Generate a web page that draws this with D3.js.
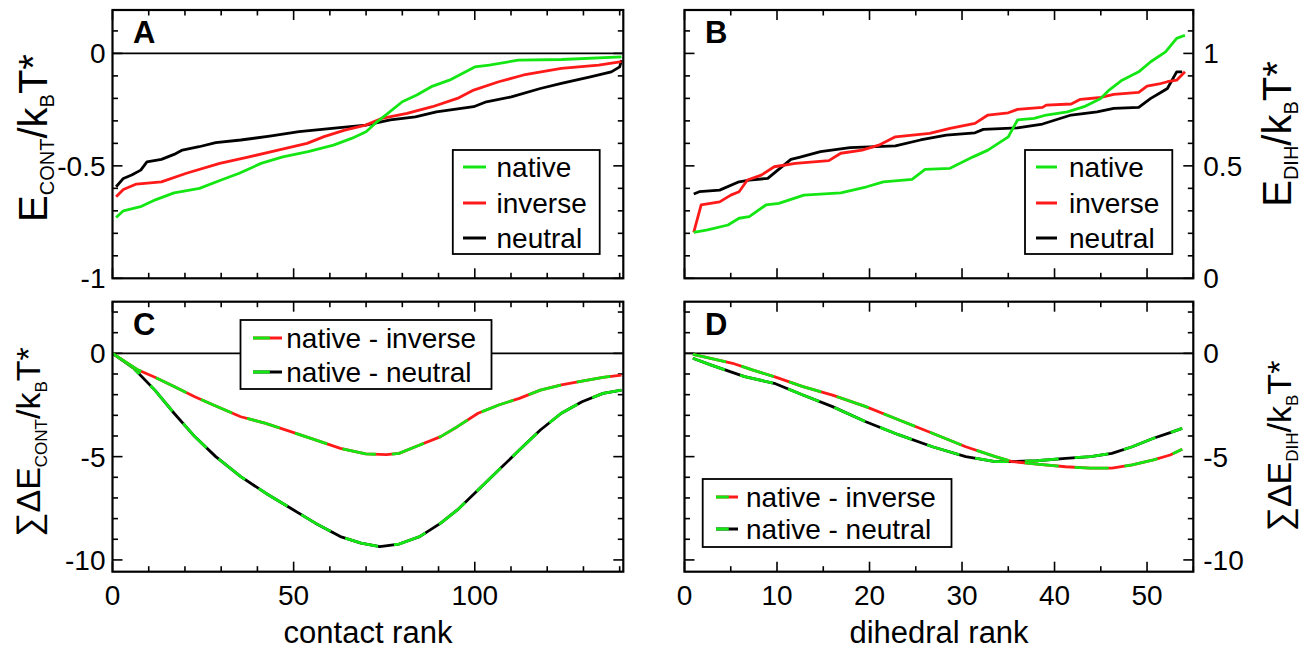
<!DOCTYPE html>
<html>
<head>
<meta charset="utf-8">
<script src="https://cdn.jsdelivr.net/npm/d3@7"></script>
<style>
  html, body { margin: 0; padding: 0; background: #fff; }
  svg { display: block; }
</style>
</head>
<body>
<div id="chart"></div>
<script>
// per-contact / per-dihedral energies, sorted by rank: [rank, value]
const nativeCont = [[1,-0.73],[3,-0.70],[8,-0.68],[12,-0.65],[17,-0.62],[24,-0.60],[30,-0.563],[35,-0.533],[41,-0.489],[47,-0.46],[54,-0.437],[61,-0.408],[66,-0.378],[70,-0.348],[73,-0.304],[76,-0.267],[80,-0.215],[84,-0.185],[88,-0.148],[93,-0.119],[100,-0.06],[104,-0.052],[112,-0.03],[124,-0.027],[140.5,-0.015]];
const inverseCont = [[1,-0.637],[3,-0.605],[6.6,-0.581],[13.5,-0.571],[20.4,-0.533],[29.6,-0.489],[37.7,-0.46],[45.7,-0.43],[53.7,-0.40],[58.4,-0.37],[64.1,-0.341],[69.9,-0.319],[74.4,-0.289],[81.3,-0.267],[88.3,-0.237],[95.2,-0.2],[99.7,-0.163],[106.6,-0.126],[113.5,-0.096],[123.9,-0.067],[134.2,-0.052],[140.5,-0.037]];
const neutralCont = [[1,-0.593],[3,-0.556],[5.3,-0.541],[7.8,-0.519],[9.5,-0.482],[13.5,-0.471],[17,-0.449],[19.3,-0.43],[23.9,-0.415],[28.5,-0.397],[35.4,-0.385],[43.4,-0.368],[51.5,-0.348],[60.6,-0.333],[69.9,-0.319],[76.7,-0.296],[83.6,-0.282],[89.4,-0.26],[99.7,-0.237],[103.2,-0.215],[110.1,-0.193],[118.1,-0.156],[123.9,-0.133],[131.9,-0.104],[137.7,-0.082],[140,-0.06],[140.5,-0.03]];

const nativeDih = [[1,0.204],[2.5,0.215],[4.7,0.237],[5.9,0.267],[7,0.274],[8.8,0.326],[10.2,0.333],[12.9,0.37],[16.9,0.38],[19.7,0.407],[21.5,0.429],[24.6,0.44],[26,0.484],[28.7,0.489],[31.2,0.54],[32.8,0.57],[35,0.629],[36,0.704],[37.8,0.711],[39.1,0.726],[41.4,0.74],[43.2,0.763],[45,0.8],[45.9,0.837],[47.3,0.881],[49.1,0.918],[50.4,0.963],[52,1.007],[53.2,1.067],[54.1,1.081]];
const inverseDih = [[1,0.204],[1.8,0.326],[3.8,0.34],[5,0.37],[5.9,0.385],[6.8,0.437],[8.3,0.459],[9.7,0.496],[12,0.511],[15.6,0.523],[16.9,0.556],[19.2,0.57],[21,0.592],[22.8,0.629],[26.5,0.644],[28.7,0.667],[31.4,0.689],[32.8,0.726],[35,0.736],[36,0.751],[38.7,0.76],[39.1,0.77],[41.8,0.775],[42.8,0.796],[45,0.804],[46.4,0.818],[49.1,0.827],[50,0.855],[51.3,0.864],[52.2,0.874],[53.2,0.881],[54.1,0.918]];
const neutralDih = [[1,0.375],[1.6,0.385],[3.8,0.392],[5.9,0.429],[7,0.437],[9,0.444],[11.5,0.529],[12.4,0.538],[14.7,0.563],[17.9,0.581],[22.8,0.589],[25.5,0.615],[28.3,0.637],[31.4,0.647],[32.3,0.662],[36,0.669],[38.7,0.686],[41.8,0.726],[44.6,0.74],[46.4,0.756],[49.1,0.76],[50.4,0.8],[51.3,0.822],[52.2,0.844],[53.2,0.918],[53.8,0.918]];

// cumulative differences
const cumInverseCont = [[0,0],[7.1,-0.81],[11.7,-1.16],[17,-1.61],[22.7,-2.1],[28.5,-2.55],[35.4,-3.07],[42.3,-3.39],[49.2,-3.79],[56,-4.19],[62.9,-4.6],[69.9,-4.87],[75.6,-4.9],[79.1,-4.84],[84.8,-4.44],[90.6,-4.03],[95.2,-3.55],[100.9,-2.9],[106.6,-2.5],[112.3,-2.18],[118.1,-1.78],[123.9,-1.53],[129.6,-1.34],[135.4,-1.16],[140.5,-1.05]];
const cumNeutralCont = [[0,0],[5.9,-0.73],[11.7,-1.78],[17,-2.9],[22.7,-4.03],[28.5,-5.0],[35.4,-5.97],[42.3,-6.77],[49.2,-7.5],[56,-8.22],[62.9,-8.87],[68.6,-9.19],[73.8,-9.36],[79.1,-9.23],[84.8,-8.87],[90.6,-8.22],[95.2,-7.58],[100.9,-6.61],[106.6,-5.65],[112.3,-4.68],[118.1,-3.71],[123.9,-2.9],[129.6,-2.34],[135.4,-1.94],[140.5,-1.78]];
const cumInverseDih = [[0.9,-0.05],[2,-0.16],[5.2,-0.48],[7.4,-0.81],[9.7,-1.13],[12.8,-1.61],[16,-2.02],[19.6,-2.58],[23.2,-3.23],[26.8,-3.87],[30.4,-4.52],[33.6,-5.0],[35.4,-5.24],[38.1,-5.36],[41.2,-5.49],[43.9,-5.56],[46.2,-5.56],[48.4,-5.4],[50.7,-5.16],[52.5,-4.92],[53.8,-4.64]];
const cumNeutralDih = [[0.9,-0.24],[2.9,-0.57],[6.5,-1.13],[9.7,-1.45],[12.8,-2.02],[16,-2.58],[19.6,-3.31],[23.2,-3.95],[26.8,-4.52],[30.4,-5.0],[33.6,-5.24],[35.4,-5.24],[38.1,-5.2],[41.2,-5.08],[43.9,-5.0],[46.2,-4.84],[48.4,-4.52],[50.7,-4.11],[52.5,-3.84],[53.8,-3.63]];

const seriesNames = ["native", "inverse", "neutral"];
const diffNames = ["native - inverse", "native - neutral"];
const contactTickLabels = [0, 50, 100];
const dihedralTickLabels = [0, 10, 20, 30, 40, 50];

const GREEN = "#14e614", RED = "#ff1a1a", BLACK = "#000";
const FONT = "'Liberation Sans', Arial, Helvetica, sans-serif";

const svg = d3.select("#chart").append("svg")
  .attr("width", 1304).attr("height", 649)
  .style("font-family", FONT);

// panel boxes (pixel frame) and scales
const colLeft = [112.5, 623.3], colRight = [684.5, 1193.3];
const rowTop = [10, 278.3], rowBottom = [301.7, 571.7];

const panels = [
  { letter: "A", xr: colLeft, yr: rowTop, xDomain: [0, 141], yDomain: [-1, 0.193],
    xMinor: d3.range(0, 141, 10), xMajor: contactTickLabels,
    yMinor: d3.range(-10, 2).map(v => v / 10), yMajor: [-1, -0.5, 0], ySide: "left",
    zero: true, letterX: 133 },
  { letter: "B", xr: colRight, yr: rowTop, xDomain: [0, 55], yDomain: [0, 1.193],
    xMinor: d3.range(0, 56, 5), xMajor: dihedralTickLabels,
    yMinor: d3.range(0, 12).map(v => v / 10), yMajor: [0, 0.5, 1], ySide: "right",
    zero: false, letterX: 705 },
  { letter: "C", xr: colLeft, yr: rowBottom, xDomain: [0, 141], yDomain: [-10.57, 2.5],
    xMinor: d3.range(0, 141, 10), xMajor: contactTickLabels, xLabels: contactTickLabels,
    yMinor: d3.range(-10, 3), yMajor: [-10, -5, 0], ySide: "left",
    zero: true, letterX: 133 },
  { letter: "D", xr: colRight, yr: rowBottom, xDomain: [0, 55], yDomain: [-10.57, 2.5],
    xMinor: d3.range(0, 56, 5), xMajor: dihedralTickLabels, xLabels: dihedralTickLabels,
    yMinor: d3.range(-10, 3), yMajor: [-10, -5, 0], ySide: "right",
    zero: true, letterX: 705 },
];

panels.forEach(p => {
  p.x = d3.scaleLinear().domain(p.xDomain).range(p.xr);
  p.y = d3.scaleLinear().domain(p.yDomain).range([p.yr[1], p.yr[0]]);
});

function drawFrame(p) {
  const g = svg.append("g");
  const [x0, x1] = p.xr, [y0, y1] = p.yr;
  const major = 10, minor = 5.5;

  if (p.zero) {
    g.append("line")
      .attr("x1", x0).attr("x2", x1)
      .attr("y1", p.y(0)).attr("y2", p.y(0))
      .attr("stroke", "#000").attr("stroke-width", 1.6);
  }

  // x ticks top & bottom
  p.xMinor.forEach(v => {
    const len = p.xMajor.includes(v) ? major : minor;
    const xx = p.x(v);
    g.append("line").attr("x1", xx).attr("x2", xx).attr("y1", y1).attr("y2", y1 - len)
      .attr("stroke", "#000").attr("stroke-width", 1.6);
    g.append("line").attr("x1", xx).attr("x2", xx).attr("y1", y0).attr("y2", y0 + len)
      .attr("stroke", "#000").attr("stroke-width", 1.6);
  });
  // y ticks left & right
  p.yMinor.forEach(v => {
    const len = p.yMajor.some(m => Math.abs(m - v) < 1e-9) ? major : minor;
    const yy = p.y(v);
    g.append("line").attr("x1", x0).attr("x2", x0 + len).attr("y1", yy).attr("y2", yy)
      .attr("stroke", "#000").attr("stroke-width", 1.6);
    g.append("line").attr("x1", x1).attr("x2", x1 - len).attr("y1", yy).attr("y2", yy)
      .attr("stroke", "#000").attr("stroke-width", 1.6);
  });

  // y tick labels
  g.selectAll("text.ylab")
    .data(p.yMajor)
    .join("text")
    .attr("class", "ylab")
    .attr("x", p.ySide === "left" ? x0 - 7 : x1 + 10)
    .attr("y", d => p.y(d))
    .attr("dy", "0.36em")
    .attr("text-anchor", p.ySide === "left" ? "end" : "start")
    .style("font-size", "28px")
    .text(d => String(d));

  if (p.xLabels) {
    g.selectAll("text.xlab")
      .data(p.xLabels)
      .join("text")
      .attr("class", "xlab")
      .attr("x", d => p.x(d))
      .attr("y", 605)
      .attr("text-anchor", "middle")
      .style("font-size", "28px")
      .text(d => String(d));
  }

  // panel letter
  g.append("text")
    .attr("x", p.letterX).attr("y", y0 + 33)
    .style("font-size", "31px").style("font-weight", "bold")
    .text(p.letter);
}

function drawOutline(p) {
  svg.append("rect")
    .attr("x", p.xr[0]).attr("y", p.yr[0])
    .attr("width", p.xr[1] - p.xr[0]).attr("height", p.yr[1] - p.yr[0])
    .attr("fill", "none").attr("stroke", "#000").attr("stroke-width", 2.2);
}

function lineGen(p) {
  return d3.line().x(d => p.x(d[0])).y(d => p.y(d[1]));
}

function drawSeries(p, data, color) {
  svg.append("path")
    .datum(data)
    .attr("d", lineGen(p))
    .attr("fill", "none")
    .attr("stroke", color)
    .attr("stroke-width", 2.8)
    .attr("stroke-linejoin", "round");
}

// two-colour dashed: base colour underneath, green dashes on top
function drawDiff(p, data, color) {
  drawSeries(p, data, color);
  svg.append("path")
    .datum(data)
    .attr("d", lineGen(p))
    .attr("fill", "none")
    .attr("stroke", GREEN)
    .attr("stroke-width", 2.8)
    .attr("stroke-dasharray", "34,16");
}

function legend(box, rows, rowY, sampleX, textX, diff) {
  svg.append("rect")
    .attr("x", box[0]).attr("y", box[1])
    .attr("width", box[2] - box[0]).attr("height", box[3] - box[1])
    .attr("fill", "#fff").attr("stroke", "#000").attr("stroke-width", 1.8);
  rows.forEach((r, i) => {
    const yy = rowY[i];
    svg.append("line")
      .attr("x1", sampleX[0]).attr("x2", sampleX[1]).attr("y1", yy).attr("y2", yy)
      .attr("stroke", r.color).attr("stroke-width", 3);
    if (diff) {
      svg.append("line")
        .attr("x1", sampleX[0]).attr("x2", sampleX[1]).attr("y1", yy).attr("y2", yy)
        .attr("stroke", GREEN).attr("stroke-width", 3)
        .attr("stroke-dasharray", `${(sampleX[1] - sampleX[0]) * 0.58},60`);
    }
    svg.append("text")
      .attr("x", textX).attr("y", yy).attr("dy", "0.35em")
      .style("font-size", "28px")
      .text(r.name);
  });
}

const [pA, pB, pC, pD] = panels;
panels.forEach(drawFrame);

drawSeries(pA, neutralCont, BLACK);
drawSeries(pA, inverseCont, RED);
drawSeries(pA, nativeCont, GREEN);

drawSeries(pB, neutralDih, BLACK);
drawSeries(pB, inverseDih, RED);
drawSeries(pB, nativeDih, GREEN);

drawDiff(pC, cumNeutralCont, BLACK);
drawDiff(pC, cumInverseCont, RED);
drawDiff(pD, cumNeutralDih, BLACK);
drawDiff(pD, cumInverseDih, RED);

panels.forEach(drawOutline);

const seriesRows = seriesNames.map((n, i) => ({ name: n, color: [GREEN, RED, BLACK][i] }));
const diffRows = diffNames.map((n, i) => ({ name: n, color: [RED, BLACK][i] }));

legend([452.8, 150, 599.7, 254], seriesRows, [167, 203, 238], [463, 486], 496.5, false);
legend([1025, 150, 1172.3, 254], seriesRows, [167, 203, 238], [1036, 1057], 1069, false);
legend([240.5, 320, 491.5, 389], diffRows, [338, 372], [253, 282], 286.3, true);
legend([702.7, 479, 951.5, 547], diffRows, [497, 529], [716, 738], 746, true);

// axis titles
svg.append("text").attr("x", 368).attr("y", 643).attr("text-anchor", "middle")
  .style("font-size", "31px").text("contact rank");
svg.append("text").attr("x", 939).attr("y", 643).attr("text-anchor", "middle")
  .style("font-size", "31px").text("dihedral rank");

function yTitle(x, y, parts, size, subSize) {
  const t = svg.append("text")
    .attr("transform", `translate(${x},${y}) rotate(-90)`)
    .attr("text-anchor", "middle")
    .style("font-size", size + "px");
  let down = 0;
  parts.forEach(([s, sub]) => {
    const shift = sub ? 7 : 0;
    t.append("tspan")
      .attr("dy", shift - down)
      .style("font-size", (sub ? subSize : size) + "px")
      .text(s);
    down = shift;
  });
}

yTitle(47, 138, [["E"], ["CONT", 1], ["/k"], ["B", 1], ["T*"]], 40, 20);
yTitle(1291, 134, [["E"], ["DIH", 1], ["/k"], ["B", 1], ["T*"]], 40, 20);
yTitle(40, 442, [["\u2211\u0394E"], ["CONT", 1], ["/k"], ["B", 1], ["T*"]], 34, 17);
yTitle(1291, 446, [["\u2211\u0394E"], ["DIH", 1], ["/k"], ["B", 1], ["T*"]], 34, 17);
</script>
</body>
</html>
